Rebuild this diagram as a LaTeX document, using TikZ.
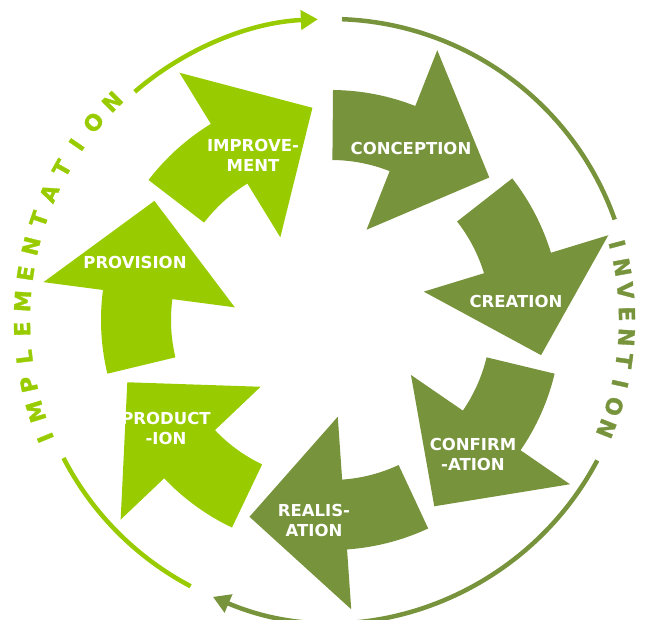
\documentclass[tikz,border=0pt]{standalone}
\usepackage{fontspec}
\setmainfont{DejaVu Sans}
\newfontfamily\ringfont[BoldFeatures={FakeBold=1.5}]{DejaVu Sans}
\usetikzlibrary{arrows.meta}
\definecolor{darkgreen}{HTML}{77933C}
\definecolor{lightgreen}{HTML}{99CC00}

\begin{document}
\begin{tikzpicture}[
			x=1pt, y=1pt,
			steplabel/.style={text=white, font=\fontsize{16.5}{20}\selectfont\bfseries, align=center, inner sep=0pt},
			ringletter/.style={font=\fontsize{22}{22}\selectfont\ringfont\bfseries, inner sep=0pt},
			ring/.style={line width=4.5pt},
			ringtip/.style={-{Triangle[length=17pt,width=19pt]}},
			]
			\useasboundingbox (-331,-300) rectangle (316,320);
			\coordinate (c) at (0,0);
			%Arrows
			\foreach \a/\col in {89.5/darkgreen, 38/darkgreen, -13.5/darkgreen, -65/darkgreen, -115.5/lightgreen, -166.5/lightgreen, 142.5/lightgreen}
			\fill[\col] (\a:230pt) arc[start angle=\a, end angle=\a-21, radius=230pt] -- (\a-21:290pt) -- (\a-47.5:213pt) -- (\a-21:97pt) -- (\a-21:160pt) arc[start angle=\a-21, end angle=\a, radius=160pt] -- cycle;
			
			%Nodes
			\node[steplabel]      (conception)    at 	(80,172)     {CONCEPTION};
			\node[steplabel]      (creation)      at 	(185,19)     {CREATION};
			\node[steplabel]      (confirmation)  at 	(142,-134)   {CONFIRM\\-ATION};
			\node[steplabel]      (realisation)   at 	(-17,-200)   {REALIS-\\ATION};
			\node[steplabel]      (production)    at 	(-165,-108)  {PRODUCT\\-ION};
			\node[steplabel]      (provision)     at 	(-196,58)    {PROVISION};
			\node[steplabel]      (improvement)   at 	(-78,165)    {IMPROVE-\\MENT};
			
			%Ring
			\draw[ring, lightgreen] (242.2:301pt) arc[start angle=242.2, end angle=207.3, radius=301pt];
			\draw[ring, lightgreen, ringtip] (130.7:301pt) arc[start angle=130.7, end angle=92.5, radius=301pt];
			\draw[ring, darkgreen] (87.9:301pt) arc[start angle=87.9, end angle=19.5, radius=301pt];
			\draw[ring, darkgreen, ringtip] (-27.8:301pt) arc[start angle=-27.8, end angle=-113.1, radius=301pt];
			
			%Ring letters
			\foreach \l [count=\i] in {I,N,V,E,N,T,I,O,N}
			\node[ringletter, text=darkgreen, rotate={14.8-4.54*(\i-1)-90}] (inv\i) at ({14.8-4.54*(\i-1)}:296pt) {\l};
			\foreach \l [count=\i] in {I,M,P,L,E,M,E,N,T,A,T,I,O,N}
			\node[ringletter, text=lightgreen, rotate={202.4-5.18*(\i-1)-90}] (imp\i) at ({202.4-5.18*(\i-1)}:309pt) {\l};
		\end{tikzpicture}
\end{document}
